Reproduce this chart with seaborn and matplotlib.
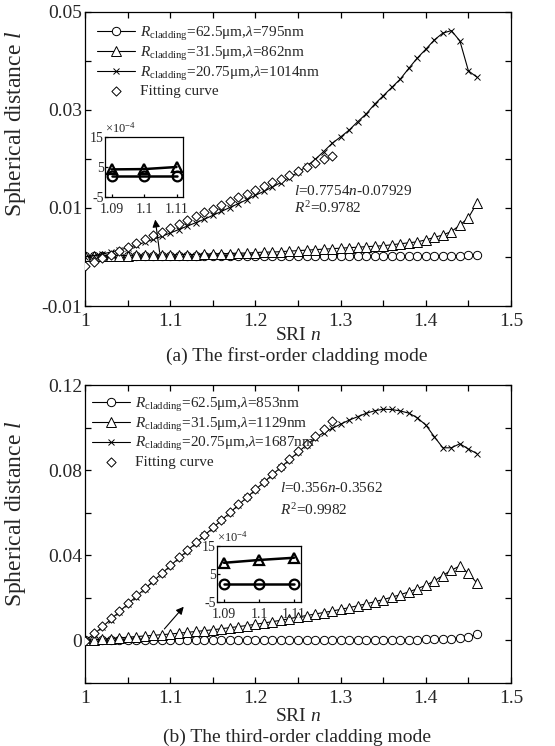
import matplotlib
matplotlib.use("Agg")
import matplotlib.pyplot as plt
import seaborn as sns

# SRI grid (shared by every series)
SRI = [1.00, 1.01, 1.02, 1.03, 1.04, 1.05, 1.06, 1.07, 1.08, 1.09,
       1.10, 1.11, 1.12, 1.13, 1.14, 1.15, 1.16, 1.17, 1.18, 1.19,
       1.20, 1.21, 1.22, 1.23, 1.24, 1.25, 1.26, 1.27, 1.28, 1.29,
       1.30, 1.31, 1.32, 1.33, 1.34, 1.35, 1.36, 1.37, 1.38, 1.39,
       1.40, 1.41, 1.42, 1.43, 1.44, 1.45, 1.46]
SRI_FIT = SRI[:30]

# (a) first-order cladding mode
a_r625 = [0.0002] * 40 + [0.0002, 0.0002, 0.0003, 0.0003, 0.0003, 0.0004, 0.0005]
a_r315 = [0.0002, 0.0002, 0.0003, 0.0003, 0.0003, 0.0003, 0.0004, 0.0004, 0.0004, 0.0004,
          0.0004, 0.0005, 0.0005, 0.0005, 0.0006, 0.0006, 0.0007, 0.0007, 0.0008, 0.0008,
          0.0009, 0.0010, 0.0010, 0.0011, 0.0012, 0.0013, 0.0014, 0.0015, 0.0016, 0.0017,
          0.0018, 0.0019, 0.0020, 0.0021, 0.0022, 0.0023, 0.0025, 0.0027, 0.0029, 0.0031,
          0.0035, 0.0040, 0.0045, 0.0052, 0.0065, 0.0080, 0.0110]
a_r2075 = [0.0000, 0.0003, 0.0006, 0.0010, 0.0014, 0.0019, 0.0024, 0.0030, 0.0036, 0.0042,
           0.0049, 0.0056, 0.0063, 0.0070, 0.0077, 0.0085, 0.0093, 0.0101, 0.0109, 0.0117,
           0.0126, 0.0134, 0.0143, 0.0152, 0.0162, 0.0173, 0.0185, 0.0199, 0.0215, 0.0232,
           0.0245, 0.0259, 0.0276, 0.0292, 0.0312, 0.0329, 0.0346, 0.0363, 0.0385, 0.0406,
           0.0424, 0.0443, 0.0457, 0.0462, 0.0441, 0.0380, 0.0367]
a_fit = [-0.0018, -0.0010, -0.0003, 0.0005, 0.0013, 0.0021, 0.0029, 0.0036, 0.0044, 0.0052,
         0.0060, 0.0067, 0.0075, 0.0083, 0.0091, 0.0098, 0.0106, 0.0114, 0.0122, 0.0129,
         0.0137, 0.0145, 0.0153, 0.0160, 0.0168, 0.0176, 0.0184, 0.0191, 0.0199, 0.0207]

# (b) third-order cladding mode
b_r625 = [0.0000, 0.0000, 0.0000, 0.0000, 0.0000, 0.0000, 0.0000, 0.0000, 0.0000, 0.0000,
          0.0000, 0.0000, 0.0000, 0.0000, 0.0000, 0.0000, 0.0000, 0.0000, 0.0000, 0.0000,
          0.0001, 0.0001, 0.0001, 0.0001, 0.0001, 0.0001, 0.0001, 0.0001, 0.0001, 0.0001,
          0.0002, 0.0002, 0.0002, 0.0002, 0.0002, 0.0003, 0.0003, 0.0003, 0.0003, 0.0004,
          0.0005, 0.0006, 0.0007, 0.0009, 0.0011, 0.0015, 0.0031]
b_r315 = [0.0000, 0.0003, 0.0006, 0.0009, 0.0012, 0.0015, 0.0018, 0.0021, 0.0024, 0.0027,
          0.0030, 0.0034, 0.0038, 0.0042, 0.0046, 0.0050, 0.0055, 0.0060, 0.0065, 0.0070,
          0.0076, 0.0082, 0.0088, 0.0095, 0.0102, 0.0110, 0.0117, 0.0124, 0.0131, 0.0138,
          0.0146, 0.0154, 0.0163, 0.0172, 0.0182, 0.0192, 0.0203, 0.0215, 0.0228, 0.0243,
          0.0259, 0.0280, 0.0305, 0.0330, 0.0350, 0.0315, 0.0270]
b_r2075 = [0.0000, 0.0028, 0.0062, 0.0098, 0.0134, 0.0170, 0.0206, 0.0242, 0.0278, 0.0314,
           0.0350, 0.0386, 0.0421, 0.0457, 0.0493, 0.0528, 0.0564, 0.0600, 0.0636, 0.0672,
           0.0708, 0.0743, 0.0779, 0.0814, 0.0849, 0.0884, 0.0918, 0.0950, 0.0976, 0.0996,
           0.1016, 0.1035, 0.1051, 0.1067, 0.1079, 0.1086, 0.1085, 0.1078, 0.1068, 0.1046,
           0.1012, 0.0957, 0.0905, 0.0905, 0.0924, 0.0899, 0.0878]
b_fit = [-0.0002, 0.0034, 0.0069, 0.0105, 0.0140, 0.0176, 0.0212, 0.0247, 0.0283, 0.0318,
         0.0354, 0.0390, 0.0425, 0.0461, 0.0496, 0.0532, 0.0568, 0.0603, 0.0639, 0.0674,
         0.0710, 0.0746, 0.0781, 0.0817, 0.0852, 0.0888, 0.0924, 0.0959, 0.0995, 0.1030]

# insets (zoom around n = 1.1)
INSET_N = [1.09, 1.10, 1.11]
a_in_r625 = [2.0e-4, 2.0e-4, 2.0e-4]
a_in_r315 = [4.2e-4, 4.3e-4, 5.0e-4]
b_in_r625 = [1.3e-4, 1.3e-4, 1.3e-4]
b_in_r315 = [9.0e-4, 10.0e-4, 10.8e-4]

LABELS_A = ["$R_{\\rm cladding}$=62.5μm,$\\lambda$=795nm",
            "$R_{\\rm cladding}$=31.5μm,$\\lambda$=862nm",
            "$R_{\\rm cladding}$=20.75μm,$\\lambda$=1014nm",
            "Fitting curve"]
LABELS_B = ["$R_{\\rm cladding}$=62.5μm,$\\lambda$=853nm",
            "$R_{\\rm cladding}$=31.5μm,$\\lambda$=1129nm",
            "$R_{\\rm cladding}$=20.75μm,$\\lambda$=1687nm",
            "Fitting curve"]

YTICKS_A = [-0.01, 0.01, 0.03, 0.05]
YTICKLABELS_A = ["-0.01", "0.01", "0.03", "0.05"]
YMINOR_A = [0.0, 0.02, 0.04]
YTICKS_B = [0.0, 0.04, 0.08, 0.12]
YTICKLABELS_B = ["0", "0.04", "0.08", "0.12"]
YMINOR_B = [-0.02, 0.02, 0.06, 0.10]
XTICKS = [1.0, 1.1, 1.2, 1.3, 1.4, 1.5]
XTICKLABELS = ["1", "1.1", "1.2", "1.3", "1.4", "1.5"]
XMINOR = [1.05, 1.15, 1.25, 1.35, 1.45]

sns.set_theme(style="ticks")
plt.rcParams["font.family"] = ["Liberation Serif", "DejaVu Serif"]
plt.rcParams["mathtext.fontset"] = "custom"
plt.rcParams["mathtext.rm"] = "Liberation Serif"
plt.rcParams["mathtext.it"] = "Liberation Serif:italic"
plt.rcParams["mathtext.bf"] = "Liberation Serif:bold"

W, H = 555, 746
fig = plt.figure(figsize=(W / 100, H / 100), dpi=100)


def px_axes(x0, y0, x1, y1):
    return fig.add_axes([x0 / W, 1 - y1 / H, (x1 - x0) / W, (y1 - y0) / H])


def style_ax(ax, lw=0.9, size=14, length=4):
    for s in ax.spines.values():
        s.set_linewidth(lw)
        s.set_color("black")
    ax.tick_params(which="both", direction="in", top=True, right=True,
                   length=length, width=lw, color="black", labelsize=size)


def draw_panel(ax, r625, r315, r2075, fit, labels):
    line_kw = dict(ax=ax, color="black", lw=0.8, errorbar=None, sort=False,
                   markeredgecolor="black", markeredgewidth=0.7)
    sns.lineplot(x=SRI, y=r625, marker="o", markersize=6, markerfacecolor="white",
                 label=labels[0], **line_kw)
    sns.lineplot(x=SRI, y=r315, marker="^", markersize=6.5, markerfacecolor="white",
                 label=labels[1], **line_kw)
    sns.lineplot(x=SRI, y=r2075, marker="x", markersize=4, label=labels[2], **line_kw)
    sns.scatterplot(x=SRI_FIT, y=fit, ax=ax, marker="D", s=22, facecolor="white",
                    edgecolor="black", linewidth=0.7, label=labels[3], zorder=3)


def draw_inset(ax, r625, r315):
    kw = dict(ax=ax, color="black", lw=1.8, errorbar=None, markersize=7,
              markerfacecolor="none", markeredgecolor="black", markeredgewidth=1.6,
              legend=False)
    sns.lineplot(x=INSET_N, y=r315, marker="^", **kw)
    sns.lineplot(x=INSET_N, y=r625, marker="o", **kw)
    ax.set_xlim(1.088, 1.112)
    ax.set_ylim(-5e-4, 15e-4)
    ax.set_xticks([1.09, 1.10, 1.11], ["1.09", "1.1", "1.11"])
    ax.set_yticks([-5e-4, 5e-4, 15e-4], ["-5", "5", "15"])
    ax.set_facecolor("white")
    style_ax(ax, lw=0.9, size=10, length=2.5)
    ax.tick_params(which="both", top=False, right=False)
    ax.tick_params(axis="y", pad=1)
    ax.tick_params(axis="x", pad=4.5)
    ax.text(0.0, 1.02, "$\\times10^{-4}$", transform=ax.transAxes, fontsize=9,
            ha="left", va="bottom")


def finish_axes(ax, ylim, yt, ytl, ymin):
    ax.set_xlim(1.0, 1.5)
    ax.set_ylim(*ylim)
    ax.set_xticks(XTICKS, XTICKLABELS)
    ax.set_xticks(XMINOR, minor=True)
    ax.set_yticks(yt, ytl)
    ax.set_yticks(ymin, minor=True)
    style_ax(ax)
    ax.tick_params(axis="x", pad=5)
    ax.tick_params(axis="y", pad=2)
    ax.set_xlabel("SRI $n$", fontsize=14)
    ax.set_ylabel("")


# ---------- panel (a) ----------
ax1 = px_axes(85, 12, 511, 306)
draw_panel(ax1, a_r625, a_r315, a_r2075, a_fit, LABELS_A)
finish_axes(ax1, (-0.01, 0.05), YTICKS_A, YTICKLABELS_A, YMINOR_A)
ax1.xaxis.set_label_coords(0.5, -0.072)
fig.text(16 / W, 1 - 124 / H, "Spherical distance $l$", fontsize=17,
         rotation=90, ha="center", va="center")
ax1.legend(loc="upper left", bbox_to_anchor=(0.028, 0.956), frameon=False,
           fontsize=11, handlelength=2.5, handletextpad=0.3, labelspacing=0.12,
           borderaxespad=0, borderpad=0)
ax1.text(1.245, 0.0135, "$l$=0.7754$n$-0.07929", fontsize=11, va="center")
ax1.text(1.245, 0.0100, "$R^2$=0.9782", fontsize=11, va="center")
ax1.annotate("", xy=(1.082, 0.0082), xytext=(1.088, 0.0004),
             arrowprops=dict(arrowstyle="-|>", color="black", lw=0.8, mutation_scale=11))
fig.text(297 / W, 1 - 356 / H, "(a) The first-order cladding mode", fontsize=14,
         ha="center", va="center")

ins1 = px_axes(105, 137, 183, 197)
draw_inset(ins1, a_in_r625, a_in_r315)

# ---------- panel (b) ----------
ax2 = px_axes(85, 385, 511, 683)
draw_panel(ax2, b_r625, b_r315, b_r2075, b_fit, LABELS_B)
finish_axes(ax2, (-0.02, 0.12), YTICKS_B, YTICKLABELS_B, YMINOR_B)
ax2.xaxis.set_label_coords(0.5, -0.085)
fig.text(16 / W, 1 - 514 / H, "Spherical distance $l$", fontsize=17,
         rotation=90, ha="center", va="center")
ax2.legend(loc="upper left", bbox_to_anchor=(0.016, 0.964), frameon=False,
           fontsize=11, handlelength=2.5, handletextpad=0.3, labelspacing=0.12,
           borderaxespad=0, borderpad=0)
ax2.text(1.229, 0.0715, "$l$=0.356$n$-0.3562", fontsize=11, va="center")
ax2.text(1.229, 0.0612, "$R^2$=0.9982", fontsize=11, va="center")
ax2.annotate("", xy=(1.118, 0.0168), xytext=(1.091, 0.0044),
             arrowprops=dict(arrowstyle="-|>", color="black", lw=0.8, mutation_scale=11))
fig.text(297 / W, 1 - 737 / H, "(b) The third-order cladding mode", fontsize=14,
         ha="center", va="center")

ins2 = px_axes(217, 546, 301, 602)
draw_inset(ins2, b_in_r625, b_in_r315)

fig.savefig("out.png", dpi=100)
